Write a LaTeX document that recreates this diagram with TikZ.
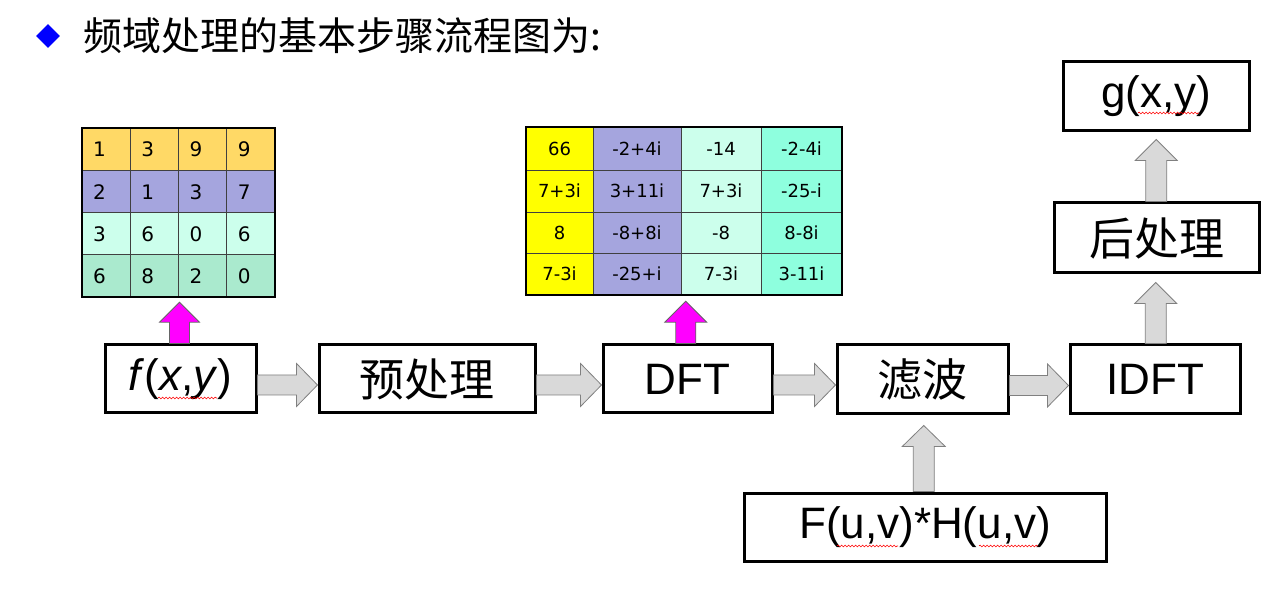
\documentclass[tikz,border=0pt]{standalone}
\usepackage{fontspec}
\setmainfont{Liberation Sans}
\newfontfamily\cjk{Noto Sans CJK SC}
\newfontfamily\tabfont{DejaVu Sans}
\usetikzlibrary{calc,shapes.geometric,decorations.pathmorphing}
\definecolor{tgold}{RGB}{255,217,102}
\definecolor{tpurple}{RGB}{165,165,222}
\definecolor{tcyan}{RGB}{204,255,236}
\definecolor{tmint}{RGB}{170,234,206}
\definecolor{tyellow}{RGB}{255,255,0}
\definecolor{taqua}{RGB}{142,255,222}
\definecolor{arrowgray}{RGB}{217,217,217}
\definecolor{brightmagenta}{RGB}{255,0,255}
\newcommand{\blockH}[3]{%
  \path[#1] let \p1=(#2.east), \p2=(#3.west) in
    (\x1,\y1-6pt+10pt) -- (\x2-21pt,\y1-6pt+10pt) -- (\x2-21pt,\y1-6pt+21.5pt)
    -- (\x2,\y1-6pt) -- (\x2-21pt,\y1-6pt-21.5pt) -- (\x2-21pt,\y1-6pt-10pt)
    -- (\x1,\y1-6pt-10pt) -- cycle;}
% #1 style, #2 from, #3 to, #4 half shaft, #5 half head, #6 head length, #7 gap
\newcommand{\blockV}[7]{%
  \path[#1] let \p1=(#2.north), \p2=(#3.south), \p3=(\x1/2+\x2/2,\y2-#7) in
    (\x3-#4,\y1) -- (\x3-#4,\y3-#6) -- (\x3-#5,\y3-#6) -- (\x3,\y3)
    -- (\x3+#5,\y3-#6) -- (\x3+#4,\y3-#6) -- (\x3+#4,\y1) -- cycle;}
\tikzset{
  box/.style={draw=black, line width=3pt, fill=white, inner sep=0pt,
    minimum height=68, font=\fontsize{44}{44}\selectfont},
  cjkbox/.style={box, font=\cjk\fontsize{45}{45}\selectfont},
  grayarrow/.style={fill=arrowgray, draw=black!50, line width=0.8pt},
  magarrow/.style={fill=brightmagenta, draw=black!60, line width=0.8pt},
  gridline/.style={draw=black!75, line width=0.9pt},
  tabborder/.style={draw=black, line width=2.4pt, inner sep=0pt},
  t1txt/.style={anchor=west, inner sep=0pt, font=\tabfont\fontsize{20}{20}\selectfont},
  t2txt/.style={inner sep=0pt, font=\tabfont\fontsize{18}{18}\selectfont},
  wavy/.style={draw=red, line width=0.6pt, decorate,
    decoration={snake, amplitude=0.9pt, segment length=3.5pt}}
}
\begin{document}
\begin{tikzpicture}[x=1pt,y=-1pt]
\useasboundingbox (0,0) rectangle (1272,593);
\fill[white] (0,0) rectangle (1272,593);

% title
\node[diamond, fill=blue, minimum width=24, minimum height=24, inner sep=0pt] (bullet) at (48,36) {};
\node[anchor=west, inner sep=0pt, font=\cjk\fontsize{39}{39}\selectfont] (title) at (83,36) {频域处理的基本步骤流程图为:};

% table 1 (input image)
\foreach \r/\c in {0/tgold,1/tpurple,2/tcyan,3/tmint}
  \fill[\c] (82,128+\r*42.25) rectangle ++(193,42.25);
\foreach \k in {1,2,3} {
  \draw[gridline] (82+\k*48.25,128) -- ++(0,169);
  \draw[gridline] (82,128+\k*42.25) -- ++(193,0);
}
\node[tabborder, minimum width=193, minimum height=169] (t1) at (178.5,212.5) {};
\foreach [count=\r from 0] \rowvals in {{1,3,9,9},{2,1,3,7},{3,6,0,6},{6,8,2,0}} {
  \foreach [count=\c from 0] \v in \rowvals {
    \node[t1txt] (t1-\r-\c) at (93+\c*48.25,149.5+\r*42.25) {\v};
  }
}

% table 2 (DFT result)
\fill[tyellow] (526,127) rectangle (593,295);
\fill[tpurple] (593,127) rectangle (681,295);
\fill[tcyan] (681,127) rectangle (761,295);
\fill[taqua] (761,127) rectangle (842,295);
\foreach \xx in {593,681,761} \draw[gridline] (\xx,127) -- (\xx,295);
\foreach \yy in {170,212,253} \draw[gridline] (526,\yy) -- (842,\yy);
\node[tabborder, minimum width=316, minimum height=168] (t2) at (684,211) {};
\foreach [count=\r from 0] \yy in {148.5,191,232.5,274} {
  \foreach [count=\c from 0] \xx in {559.5,637,721,801.5} {
    \coordinate (t2c-\r-\c) at (\xx,\yy);
  }
}
\foreach [count=\r from 0] \rowvals in {{66,-2+4i,-14,-2-4i},{7+3i,3+11i,7+3i,-25-i},{8,-8+8i,-8,8-8i},{7-3i,-25+i,7-3i,3-11i}} {
  \foreach [count=\c from 0] \v in \rowvals {
    \node[t2txt] (t2-\r-\c) at (t2c-\r-\c) {\v};
  }
}

% process boxes
\node[box, minimum width=151] (f) at (180.5,379) {\textit{f}(\textit{x},\textit{y})};
\node[cjkbox, minimum width=216] (pre) at (427,379) {预处理};
\node[box, minimum width=169] (dft) at (687.5,379) {DFT};
\node[cjkbox, minimum width=171, minimum height=69] (filt) at (922.5,379.5) {滤波};
\node[box, minimum width=170, minimum height=69] (idft) at (1155,379.5) {IDFT};
\node[box, minimum width=362] (fh) at (925,527) {F(u,v)*H(u,v)};
\node[cjkbox, minimum width=205, minimum height=70] (post) at (1156.5,238) {后处理};
\node[box, minimum width=186, minimum height=69] (g) at (1156,96.5) {g(x,y)};

% spell-check underlines
\draw[wavy] (158,398) -- (217,398);
\draw[wavy] (1138,113) -- (1199,113);
\draw[wavy] (837,546) -- (898,546);
\draw[wavy] (979,546) -- (1038,546);

% horizontal block arrows
\blockH{grayarrow}{f}{pre}
\blockH{grayarrow}{pre}{dft}
\blockH{grayarrow}{dft}{filt}
\blockH{grayarrow}{filt}{idft}

% vertical block arrows
\blockV{grayarrow}{fh}{filt}{10.5pt}{21.5pt}{21pt}{10pt}
\blockV{grayarrow}{idft}{post}{10.5pt}{21pt}{21pt}{8pt}
\blockV{grayarrow}{post}{g}{10.5pt}{21pt}{21pt}{7pt}
\blockV{magarrow}{f}{t1}{10pt}{20pt}{20pt}{4pt}
\blockV{magarrow}{dft}{t2}{10pt}{21pt}{21pt}{5pt}
\end{tikzpicture}
\end{document}
